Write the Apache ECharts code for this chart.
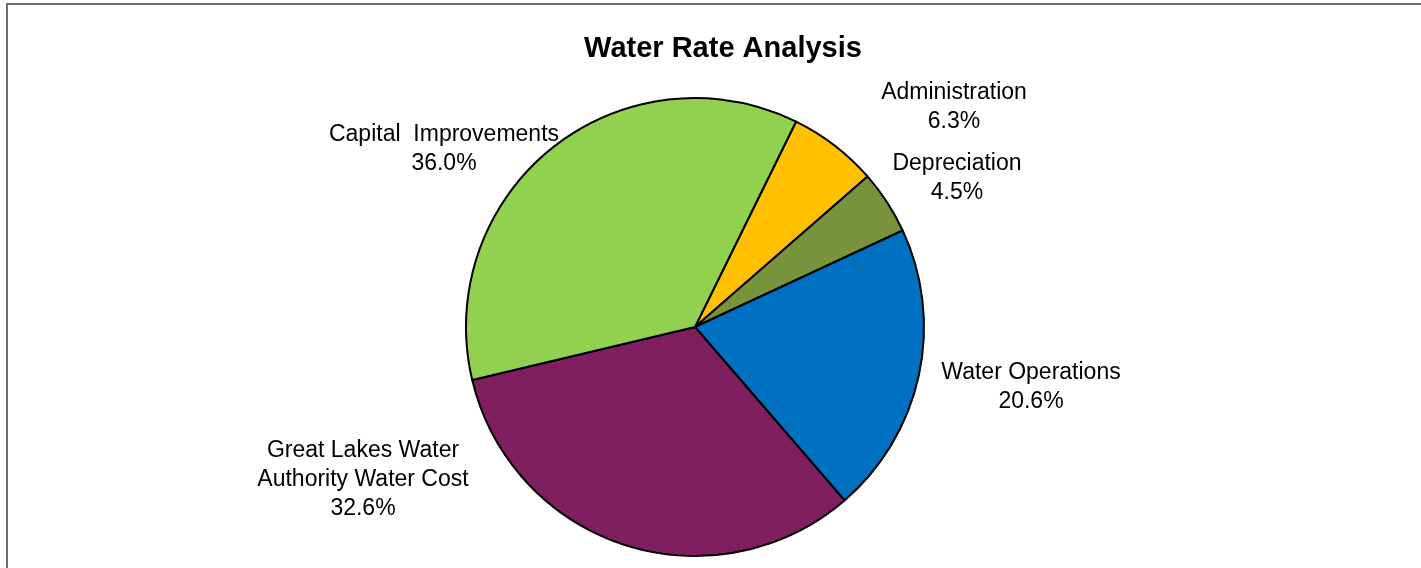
<!DOCTYPE html>
<html>
<head>
<meta charset="utf-8">
<script src="https://cdn.jsdelivr.net/npm/echarts@6/dist/echarts.min.js"></script>
<style>
  html, body { margin: 0; padding: 0; background: #fff; }
  #chart { width: 1421px; height: 568px; }
</style>
</head>
<body>
<div id="chart"></div>
<script>
// categories in clockwise order, from the top
const categories = ['Administration', 'Depreciation', 'Water Operations', 'Great Lakes Water\nAuthority Water Cost', 'Capital  Improvements'];
const shares = [6.3, 4.5, 20.6, 32.6, 36.0];
const colors = ['#FFC000', '#77933C', '#0070C0', '#7F1F5F', '#92D050'];

// where each label block sits (centre), Excel style "best fit"
const labelSpots = [[954, 107], [957, 178], [1031, 387], [363, 480], [444, 149]];

const chart = echarts.init(document.getElementById('chart'));

const option = {
    animation: false,
    backgroundColor: '#fff',
    title: {
        text: 'Water Rate Analysis',
        left: 718,
        top: 29,
        textAlign: 'center',
        textStyle: {
            fontFamily: 'Liberation Sans, Arial, sans-serif',
            fontSize: 29,
            fontWeight: 'bold',
            color: '#000'
        }
    },
    graphic: [{
        type: 'rect',
        shape: { x: 7, y: 4, width: 1440, height: 600 },
        style: { fill: 'none', stroke: '#6e6e6e', lineWidth: 2 },
        silent: true
    }],
    series: [{
        type: 'pie',
        center: [695, 327],
        radius: 229,
        startAngle: 63.8,
        clockwise: true,
        data: categories.map((name, i) => ({
            name: name,
            value: shares[i],
            itemStyle: { color: colors[i] }
        })),
        itemStyle: { borderColor: '#000', borderWidth: 2 },
        label: {
            show: true,
            position: 'outside',
            formatter: p => `${p.name}\n${p.value.toFixed(1)}%`,
            fontFamily: 'Liberation Sans, Arial, sans-serif',
            fontSize: 23,
            lineHeight: 29,
            color: '#000',
            align: 'center'
        },
        labelLine: { show: false },
        labelLayout: params => ({
            x: labelSpots[params.dataIndex][0],
            y: labelSpots[params.dataIndex][1],
            align: 'center',
            verticalAlign: 'middle'
        }),
        emphasis: { disabled: true }
    }]
};

chart.setOption(option);
window.addEventListener('resize', () => {
    chart.resize();
});
</script>
</body>
</html>
